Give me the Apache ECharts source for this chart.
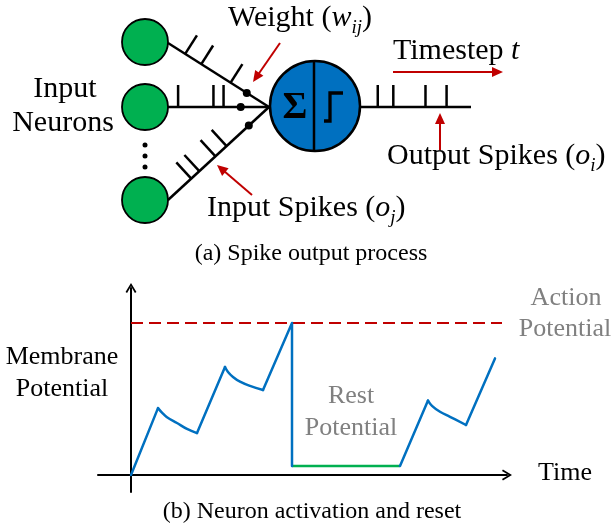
<!DOCTYPE html>
<html><head><meta charset="utf-8">
<script src="https://cdn.jsdelivr.net/npm/echarts@6/dist/echarts.min.js"></script>
<style>html,body{margin:0;padding:0;background:#fff}#c{width:615px;height:531px}</style>
</head><body><div id="c"></div>
<script>
// ---------- (a) Spike output process : diagram values (diagram units) ----------
const inputNeurons = [[145, 42], [145, 107], [145, 200]];
const connectionStarts = [[168, 43], [168, 107], [168, 200]];
const somaJunction = [269, 107];
const inputSpikes = [[0.17, 0.33, 0.62], [0.10, 0.45, 0.55], [0.23, 0.31, 0.47, 0.58]];
const weightMarks = [0.78, 0.72, 0.80];
const ellipsisDots = [[145, 145], [145, 156], [145, 167]];
const somaCenter = [315, 106];
const outputAxon = [[360, 107], [471, 107]];
const outputSpikes = [0.16, 0.30, 0.59, 0.78];
const pointerArrows = [
  [[280, 43], [253, 82]],
  [[252, 195], [217, 165]],
  [[393, 72], [503, 72]],
  [[440, 150], [440, 113]]
];
// ---------- (b) Neuron activation and reset : membrane potential ----------
const potentialRises = [
  [[0, 0], [2.7, 0.44]],
  [[6.6, 0.276], [9.4, 0.711]],
  [[13.2, 0.559], [16.1, 1.0], [16.1, 0.06]],
  [[26.9, 0.06], [29.7, 0.49]],
  [[33.5, 0.329], [36.4, 0.767]]
];
const potentialDecay1 = [[2.7, 0.44], [3.1, 0.41], [3.6, 0.38], [4.6, 0.342], [5.6, 0.303], [6.6, 0.276]];
const potentialDecay2 = [[9.4, 0.711], [9.7, 0.678], [10.2, 0.645], [10.9, 0.614], [11.9, 0.586], [13.2, 0.559]];
const potentialDecay3 = [[29.7, 0.49], [30.1, 0.455], [30.9, 0.416], [31.9, 0.383], [33.5, 0.329]];
const restPotential = [[16.1, 0.06], [26.9, 0.06]];
const actionPotential = [[0, 1.0], [37.1, 1.0]];

// ---------- styles ----------
const RED = '#C00000', BLUE = '#0070C0', GREEN = '#00B050', GRAY = '#808080';
const SERIF = '"Liberation Serif", "Times New Roman", serif';
const TICK = 22;

const mctx = document.createElement('canvas').getContext('2d');
function fontOf(f) { return (f.italic ? 'italic ' : '') + (f.bold ? 'bold ' : '') + f.size + 'px ' + SERIF; }
function label(frags, x, baseline, align, color) {
  const fonts = frags.map(fontOf);
  const widths = frags.map((f, i) => { mctx.font = fonts[i]; return mctx.measureText(f.t).width; });
  const total = widths.reduce((a, b) => a + b, 0);
  let cx = align === 'center' ? x - total / 2 : x;
  return frags.map((f, i) => {
    const el = { type: 'text', x: cx, y: baseline + (f.dy || 0) - 0.3375 * f.size, z: 10,
      style: { text: f.t, font: fonts[i], fill: color || '#000', align: 'left', verticalAlign: 'middle' } };
    cx += widths[i];
    return el;
  });
}
const T = (t, size, o) => Object.assign({ t, size }, o || {});

const texts = [].concat(
  label([T('Input', 30)], 65, 99, 'center'),
  label([T('Neurons', 30)], 63, 133, 'center'),
  label([T('Weight (', 30), T('w', 30, { italic: true }), T('ij', 19, { italic: true, dy: 6 }), T(')', 30)], 228, 28, 'left'),
  label([T('Timestep ', 30), T('t', 30, { italic: true })], 393, 61, 'left'),
  label([T('Output Spikes (', 30), T('o', 30, { italic: true }), T('i', 19, { italic: true, dy: 6 }), T(')', 30)], 387, 166, 'left'),
  label([T('Input Spikes (', 30), T('o', 30, { italic: true }), T('j', 19, { italic: true, dy: 6 }), T(')', 30)], 207, 218, 'left'),
  label([T('(a) Spike output process', 24)], 311, 262, 'center'),
  label([T('Membrane', 26)], 62, 366, 'center'),
  label([T('Potential', 26)], 62, 398, 'center'),
  label([T('Action', 26)], 566, 307, 'center', GRAY),
  label([T('Potential', 26)], 565, 338, 'center', GRAY),
  label([T('Rest', 26)], 351, 405, 'center', GRAY),
  label([T('Potential', 26)], 351, 437, 'center', GRAY),
  label([T('Time', 26)], 538, 482, 'left'),
  label([T('(b) Neuron activation and reset', 24)], 312, 520, 'center')
);

const lineStyleBlack = { stroke: '#000', lineWidth: 2.5 };

function renderConnection(params, api) {
  const i = params.dataIndex;
  const s = api.coord(connectionStarts[i]);
  const e = api.coord(somaJunction);
  const dx = e[0] - s[0], dy = e[1] - s[1], L = Math.hypot(dx, dy);
  const nx = dy / L, ny = -dx / L;
  const ch = [{ type: 'line', shape: { x1: s[0], y1: s[1], x2: e[0], y2: e[1] }, style: lineStyleBlack }];
  inputSpikes[i].forEach(f => {
    const bx = s[0] + dx * f, by = s[1] + dy * f;
    ch.push({ type: 'line', shape: { x1: bx, y1: by, x2: bx + nx * TICK, y2: by + ny * TICK }, style: lineStyleBlack });
  });
  const w = weightMarks[i];
  ch.push({ type: 'circle', shape: { cx: s[0] + dx * w, cy: s[1] + dy * w, r: 4 }, style: { fill: '#000' } });
  return { type: 'group', children: ch };
}
function renderSoma(params, api) {
  const c = api.coord(somaCenter);
  const r = api.size([45, 45])[0];
  return { type: 'group', children: [
    { type: 'circle', shape: { cx: c[0], cy: c[1], r }, style: { fill: BLUE, stroke: '#000', lineWidth: 2.5 } },
    { type: 'line', shape: { x1: c[0] - 1, y1: c[1] - r, x2: c[0] - 1, y2: c[1] + r }, style: { stroke: '#000', lineWidth: 2.5 } },
    { type: 'text', x: c[0] - 20, y: c[1] + 2, style: { text: 'Σ', font: 'bold 38px ' + SERIF, fill: '#000', align: 'center', verticalAlign: 'middle' } },
    { type: 'polyline', shape: { points: [[c[0] + 9, c[1] + 15], [c[0] + 15, c[1] + 15], [c[0] + 15, c[1] - 13], [c[0] + 28, c[1] - 13]] },
      style: { stroke: '#000', lineWidth: 3.3, fill: null } }
  ] };
}
function renderAxon(params, api) {
  const s = api.coord(outputAxon[0]), e = api.coord(outputAxon[1]);
  const ch = [{ type: 'line', shape: { x1: s[0], y1: s[1], x2: e[0], y2: e[1] }, style: lineStyleBlack }];
  outputSpikes.forEach(f => {
    const bx = s[0] + (e[0] - s[0]) * f;
    ch.push({ type: 'line', shape: { x1: bx, y1: s[1], x2: bx, y2: s[1] - TICK }, style: lineStyleBlack });
  });
  return { type: 'group', children: ch };
}
function renderArrow(params, api) {
  const a = pointerArrows[params.dataIndex];
  const s = api.coord(a[0]), e = api.coord(a[1]);
  const dx = e[0] - s[0], dy = e[1] - s[1], L = Math.hypot(dx, dy);
  const ux = dx / L, uy = dy / L, H = 11, W = 5;
  const bx = e[0] - ux * H, by = e[1] - uy * H;
  return { type: 'group', children: [
    { type: 'line', shape: { x1: s[0], y1: s[1], x2: bx + ux, y2: by + uy }, style: { stroke: RED, lineWidth: 2 } },
    { type: 'polygon', shape: { points: [[e[0], e[1]], [bx - uy * W, by + ux * W], [bx + uy * W, by - ux * W]] }, style: { fill: RED } }
  ] };
}

const chevron = 'path://M0,10 L6,0 L12,10 L10.3,11 L6,3.6 L1.7,11 Z';
const hiddenAxis = { show: false };
const blueLine = { color: BLUE, width: 2.5, cap: 'round', join: 'round' };

const potentialSeries = potentialRises.map(seg => ({
  type: 'line', xAxisIndex: 1, yAxisIndex: 1, data: seg, symbol: 'none', z: 4, lineStyle: blueLine
})).concat([potentialDecay1, potentialDecay2, potentialDecay3].map(seg => ({
  type: 'line', xAxisIndex: 1, yAxisIndex: 1, data: seg, symbol: 'none', z: 4, smooth: 0.4, lineStyle: blueLine
})));

const chart = echarts.init(document.getElementById('c'), null, { renderer: 'canvas' });
chart.setOption({
  animation: false,
  backgroundColor: '#fff',
  grid: [
    { left: 0, top: 0, width: 615, height: 531 },
    { left: 98, top: 288, width: 409, height: 204 }
  ],
  xAxis: [
    { gridIndex: 0, type: 'value', min: 0, max: 615, show: false },
    { gridIndex: 1, type: 'value', min: -3.3, max: 37.6,
      axisLine: { show: true, onZero: true, symbol: ['none', chevron], symbolSize: [12, 10], lineStyle: { color: '#000', width: 2 } },
      axisTick: hiddenAxis, axisLabel: hiddenAxis, splitLine: hiddenAxis }
  ],
  yAxis: [
    { gridIndex: 0, type: 'value', min: 0, max: 531, inverse: true, show: false },
    { gridIndex: 1, type: 'value', min: -0.1118, max: 1.2303,
      axisLine: { show: true, onZero: true, symbol: ['none', chevron], symbolSize: [12, 10], lineStyle: { color: '#000', width: 2 } },
      axisTick: hiddenAxis, axisLabel: hiddenAxis, splitLine: hiddenAxis }
  ],
  graphic: { elements: texts },
  series: [
    { type: 'custom', xAxisIndex: 0, yAxisIndex: 0, renderItem: renderConnection, data: connectionStarts, z: 2 },
    { type: 'custom', xAxisIndex: 0, yAxisIndex: 0, renderItem: renderSoma, data: [somaCenter], z: 3 },
    { type: 'custom', xAxisIndex: 0, yAxisIndex: 0, renderItem: renderAxon, data: [outputAxon[0]], z: 2 },
    { type: 'scatter', xAxisIndex: 0, yAxisIndex: 0, data: inputNeurons, symbolSize: 46, z: 4,
      itemStyle: { color: GREEN, borderColor: '#000', borderWidth: 1.8, opacity: 1 } },
    { type: 'scatter', xAxisIndex: 0, yAxisIndex: 0, data: ellipsisDots, symbolSize: 5, z: 4,
      itemStyle: { color: '#000', opacity: 1 } },
    { type: 'custom', xAxisIndex: 0, yAxisIndex: 0, renderItem: renderArrow, data: pointerArrows.map(a => a[0]), z: 5 },
    { type: 'line', xAxisIndex: 1, yAxisIndex: 1, data: actionPotential, symbol: 'none', z: 2,
      lineStyle: { color: RED, width: 2, type: [12, 6] } },
    { type: 'line', xAxisIndex: 1, yAxisIndex: 1, data: restPotential, symbol: 'none', z: 3,
      lineStyle: { color: GREEN, width: 2.5 } }
  ].concat(potentialSeries)
});
</script>
</body></html>
